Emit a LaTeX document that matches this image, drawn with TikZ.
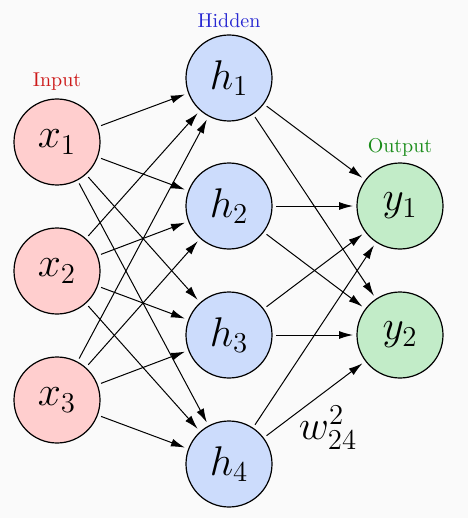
\documentclass[tikz,border=0pt]{standalone}
\usetikzlibrary{arrows.meta}
\definecolor{infill}{RGB}{255,206,206}
\definecolor{hidfill}{RGB}{204,220,252}
\definecolor{outfill}{RGB}{194,236,200}
\definecolor{intext}{RGB}{205,25,25}
\definecolor{hidtext}{RGB}{40,40,210}
\definecolor{outtext}{RGB}{25,140,25}
\tikzset{
  neuron/.style={circle, draw=black, line width=0.6pt, minimum size=43pt,
    inner sep=0pt, outer sep=2pt, font=\huge},
  inneuron/.style={neuron, fill=infill},
  hidneuron/.style={neuron, fill=hidfill},
  outneuron/.style={neuron, fill=outfill},
  conn/.style={-{Latex[length=7pt,width=4pt]}, line width=0.5pt},
}
\begin{document}
\begin{tikzpicture}[x=0.5pt,y=-0.5pt]
    \fill [black!2] (0,0) rectangle (468,518);
    \useasboundingbox (0,0) rectangle (468,518);
    % input layer
    \node [inneuron] (x1) at (57,142) {$x_1$};
    \node [inneuron] (x2) at (57,271) {$x_2$};
    \node [inneuron] (x3) at (57,400) {$x_3$};
    % hidden layer
    \node [hidneuron] (h1) at (229,78) {$h_1$};
    \node [hidneuron] (h2) at (229,206) {$h_2$};
    \node [hidneuron] (h3) at (229,335) {$h_3$};
    \node [hidneuron] (h4) at (229,464) {$h_4$};
    % output layer
    \node [outneuron] (y1) at (400,206) {$y_1$};
    \node [outneuron] (y2) at (400,335) {$y_2$};
    % layer names
    \node [text=intext] (lin) at (57,82) {Input};
    \node [text=hidtext] (lhid) at (229,21) {Hidden};
    \node [text=outtext] (lout) at (400,147) {Output};
    % connections
    \foreach \i in {1,2,3}
        \foreach \j in {1,...,4}
            \draw [conn] (x\i) -- (h\j);
    \foreach \j in {1,...,4}
        \foreach \k in {1,2}
            \draw [conn] (h\j) -- (y\k);
    \node [font=\huge] (w) at (328,428) {$w^2_{24}$};
\end{tikzpicture}
\end{document}
